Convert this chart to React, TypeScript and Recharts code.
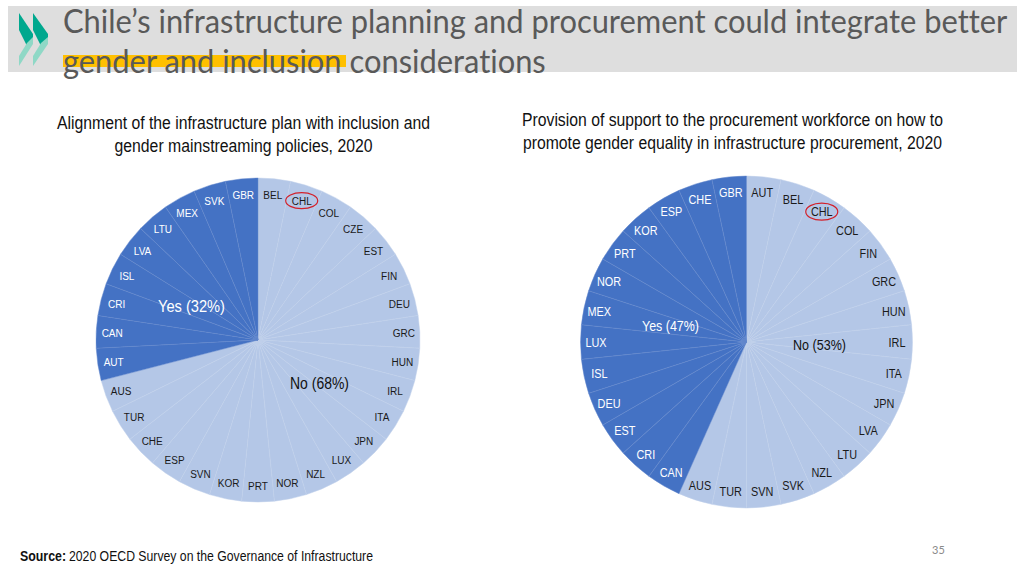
import React from "react";
import { PieChart, Pie, Cell } from "recharts";

const leftNames = [
  "BEL", "CHL", "COL", "CZE", "EST", "FIN", "DEU", "GRC", "HUN", "IRL", "ITA",
  "JPN", "LUX", "NZL", "NOR", "PRT", "KOR", "SVN", "ESP", "CHE", "TUR", "AUS",
  "AUT", "CAN", "CRI", "ISL", "LVA", "LTU", "MEX", "SVK", "GBR",
];
const leftValues = [1, 1, 1, 1, 1, 1, 1, 1, 1, 1, 1, 1, 1, 1, 1, 1, 1, 1, 1, 1, 1, 1, 1, 1, 1, 1, 1, 1, 1, 1, 1];
const leftYes = ["AUT", "CAN", "CRI", "ISL", "LVA", "LTU", "MEX", "SVK", "GBR"];

const rightNames = [
  "AUT", "BEL", "CHL", "COL", "FIN", "GRC", "HUN", "IRL", "ITA", "JPN", "LVA",
  "LTU", "NZL", "SVK", "SVN", "TUR", "AUS", "CAN", "CRI", "EST", "DEU", "ISL",
  "LUX", "MEX", "NOR", "PRT", "KOR", "ESP", "CHE", "GBR",
];
const rightValues = [1, 1, 1, 1, 1, 1, 1, 1, 1, 1, 1, 1, 1, 1, 1, 1, 1, 1, 1, 1, 1, 1, 1, 1, 1, 1, 1, 1, 1, 1];
const rightYes = ["CAN", "CRI", "EST", "DEU", "ISL", "LUX", "MEX", "NOR", "PRT", "KOR", "ESP", "CHE", "GBR"];

const leftData = leftNames.map((name, i) => ({ name, value: leftValues[i] }));
const rightData = rightNames.map((name, i) => ({ name, value: rightValues[i] }));

const DARK = "#4472C4";
const LIGHT = "#B4C7E7";
const DARK_EDGE = "#6488cd";
const LIGHT_EDGE = "#c0d0ea";
const ARIAL = "'Liberation Sans', Arial, sans-serif";
const TITLE_FONT = "Lato, 'Open Sans', sans-serif";

// country label sits on the slice's mid angle, CHL gets the red ring
const sliceLabel = (yes: string[], fontSize: number, gap: number, rx: number, ry: number) => (props: any) => {
  const { cx, cy, midAngle, outerRadius, name } = props;
  const rad = (midAngle * Math.PI) / 180;
  const r = outerRadius - gap;
  const x = cx + r * Math.cos(rad);
  const y = cy - r * Math.sin(rad);
  return (
    <g>
      <text
        transform={`translate(${x},${y}) scale(0.87,1)`}
        textAnchor="middle"
        dominantBaseline="central"
        fontFamily={ARIAL}
        fontSize={fontSize}
        fill={yes.includes(name) ? "#ffffff" : "#1a1a1a"}
      >
        {name}
      </text>
      {name === "CHL" && (
        <ellipse cx={x} cy={y} rx={rx} ry={ry} fill="none" stroke="#D3202A" strokeWidth={1.2} />
      )}
    </g>
  );
};

const Squeezed = ({ x, y, width, size, color = "#111", anchor = "middle", weight, children }: any) => (
  <text
    x={x}
    y={y}
    textAnchor={anchor}
    dominantBaseline="central"
    fontFamily={ARIAL}
    fontSize={size}
    fontWeight={weight}
    fill={color}
    textLength={width}
    lengthAdjust="spacingAndGlyphs"
  >
    {children}
  </text>
);

const TitleLine = ({ y, scale, children }: any) => (
  <text
    transform={`translate(63,${y}) scale(${scale},1)`}
    dominantBaseline="central"
    fontFamily={TITLE_FONT}
    fontSize={32}
    fill="#595959"
    style={{ fontVariantLigatures: "none" }}
  >
    {children}
  </text>
);

export default function App() {
  return (
    <div style={{ position: "absolute", left: 0, top: 0, width: 1024, height: 576, background: "#fff", overflow: "hidden" }}>
      <svg width={1024} height={100} style={{ position: "absolute", left: 0, top: 0 }}>
        <rect x={8} y={6} width={1009} height={66} fill="#DEDEDE" />
        <rect x={63} y={55} width={283} height={12} fill="#FFC000" />
      </svg>

      <div style={{ position: "absolute", left: 0, top: 0 }}>
        <PieChart width={1024} height={576} margin={{ top: 0, right: 0, bottom: 0, left: 0 }}>
          <Pie
            data={leftData}
            dataKey="value"
            nameKey="name"
            cx={258}
            cy={340}
            outerRadius={162}
            startAngle={90}
            endAngle={-270}
            label={sliceLabel(leftYes, 11.5, 16, 16, 8)}
            labelLine={false}
            isAnimationActive={false}
          >
            {leftData.map((d) => (
              <Cell
                key={d.name}
                fill={leftYes.includes(d.name) ? DARK : LIGHT}
                stroke={leftYes.includes(d.name) ? DARK_EDGE : LIGHT_EDGE}
                strokeWidth={0.5}
              />
            ))}
          </Pie>
          <Pie
            data={rightData}
            dataKey="value"
            nameKey="name"
            cx={746.5}
            cy={342}
            outerRadius={166}
            startAngle={90}
            endAngle={-270}
            label={sliceLabel(rightYes, 12.5, 15.5, 16, 8.5)}
            labelLine={false}
            isAnimationActive={false}
          >
            {rightData.map((d) => (
              <Cell
                key={d.name}
                fill={rightYes.includes(d.name) ? DARK : LIGHT}
                stroke={rightYes.includes(d.name) ? DARK_EDGE : LIGHT_EDGE}
                strokeWidth={0.5}
              />
            ))}
          </Pie>
        </PieChart>
      </div>

      <svg width={1024} height={576} style={{ position: "absolute", left: 0, top: 0, pointerEvents: "none" }}>
        <Squeezed x={191.5} y={306} width={67} size={16} color="#ffffff">Yes (32%)</Squeezed>
        <Squeezed x={319.5} y={383} width={59} size={16} color="#111">No (68%)</Squeezed>
        <Squeezed x={670.5} y={326} width={57} size={14.5} color="#ffffff">Yes (47%)</Squeezed>
        <Squeezed x={819.5} y={345} width={53} size={14.5} color="#111">No (53%)</Squeezed>

        <polygon points="19,13 33,34 33,38 27,46 19,30" fill="#00A88E" />
        <polygon points="33,37 33,44 19,66 19,56 27,43" fill="#8FD8C6" />
        <polygon points="33,13 48,34 48,38 41,46 33,30" fill="#00A88E" />
        <polygon points="48,37 48,44 33,66 33,56 41,43" fill="#8FD8C6" />

        <TitleLine y={21} scale={0.965}>Chile’s infrastructure planning and procurement could integrate better</TitleLine>
        <TitleLine y={61} scale={0.965}>gender and inclusion considerations</TitleLine>

        <Squeezed x={243.5} y={123} width={373} size={17.5}>
          Alignment of the infrastructure plan with inclusion and
        </Squeezed>
        <Squeezed x={243.5} y={146} width={258} size={17.5}>
          gender mainstreaming policies, 2020
        </Squeezed>
        <Squeezed x={732.5} y={120} width={421} size={17.5}>
          Provision of support to the procurement workforce on how to
        </Squeezed>
        <Squeezed x={732.5} y={143} width={419} size={17.5}>
          promote gender equality in infrastructure procurement, 2020
        </Squeezed>

        <Squeezed x={20} y={555.5} width={46} size={14} anchor="start" weight="bold">Source:</Squeezed>
        <Squeezed x={69} y={555.5} width={304} size={14} anchor="start">
          2020 OECD Survey on the Governance of Infrastructure
        </Squeezed>
        <text x={938.5} y={549} textAnchor="middle" dominantBaseline="central" fontFamily={TITLE_FONT} fontSize={11} fill="#8a8a8a">
          35
        </text>
      </svg>
    </div>
  );
}
